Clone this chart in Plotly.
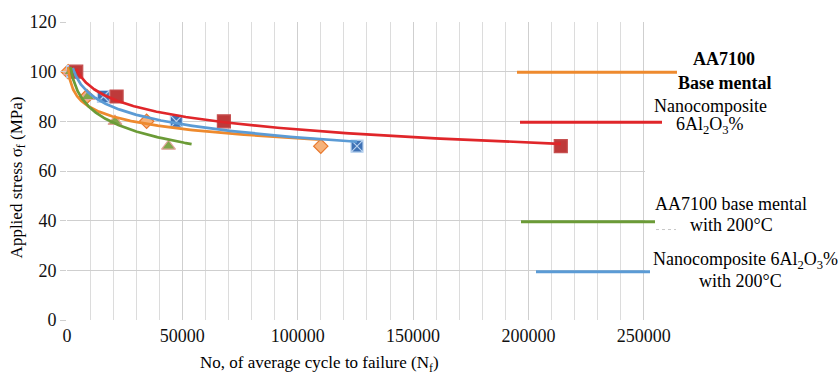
import numpy as np
import plotly.graph_objects as go

# ---- data ----
stress = [100, 90, 80, 70]
cycles_base = [500, 8600, 34500, 110000]          # AA7100 base mental
cycles_nano = [4000, 21500, 68000, 214000]        # Nanocomposite 6Al2O3%
cycles_base200 = [1500, 9000, 20800, 44000]       # AA7100 base mental with 200°C
cycles_nano200 = [2500, 15800, 47400, 125700]     # Nanocomposite 6Al2O3% with 200°C
trend_forward = [0, 0, 10000, 0]                  # Excel trendline forecast
x_ticks = [0, 50000, 100000, 150000, 200000, 250000]
y_ticks = [0, 20, 40, 60, 80, 100, 120]

series = [
    dict(x=cycles_base, line="#EE8A2E", fill="#F6B27A", edge="#E8762A", symbol="diamond", size=11),
    dict(x=cycles_nano200, line="#5B9BD5", fill="#3F72B5", edge="#B9D3F0", symbol="square-x", size=12),
    dict(x=cycles_base200, line="#6B9B37", fill="#7FA64A", edge="#E2A49C", symbol="triangle-up", size=12),
    dict(x=cycles_nano, line="#E0262A", fill="#BE3A3A", edge="#C65050", symbol="square", size=13),
]

W, H = 838, 377
L, R, T, B = 67, 193, 17, 57
PW, PH = W - L - R, H - T - B

def px(x):
    return (x - L) / PW

def py(y):
    return (H - B - y) / PH

fig = go.Figure()

# markers
for s in series:
    fig.add_trace(go.Scatter(
        x=s["x"], y=stress, mode="markers", showlegend=False, cliponaxis=False,
        marker=dict(symbol=s["symbol"], size=s["size"], color=s["fill"],
                    line=dict(color=s["edge"], width=1.2))))

# logarithmic trendlines (fit from the data)
for s, fwd in zip(series, trend_forward):
    xs = np.array(s["x"], dtype=float)
    a, b = np.polyfit(np.log(xs), np.array(stress, dtype=float), 1)
    xt = np.geomspace(xs.min(), xs.max() + fwd, 300)
    fig.add_trace(go.Scatter(x=xt, y=a * np.log(xt) + b, mode="lines", showlegend=False,
                             line=dict(color=s["line"], width=2.7)))

serif = "Liberation Serif, Times New Roman, serif"

# custom legend (Excel-style long swatches)
legend_lines = [
    (517, 677, 68, "#EE8A2E"),
    (520, 662, 119, "#E0262A"),
    (521, 655, 220, "#6B9B37"),
    (536, 650, 271, "#5B9BD5"),
]
shapes = []
for x0, x1, y, c in legend_lines:
    shapes.append(dict(type="line", xref="paper", yref="paper", x0=px(x0), x1=px(x1),
                       y0=py(y), y1=py(y), line=dict(color=c, width=3)))
shapes.append(dict(type="line", xref="paper", yref="paper", x0=px(656), x1=px(676),
                   y0=py(228), y1=py(228), line=dict(color="#C8C8C8", width=1, dash="dot")))

legend_texts = [
    ("<b>AA7100</b>", 724, 55),
    ("<b>Base mental</b>", 725, 79),
    ("Nanocomposite", 710, 102),
    ("6Al<sub>2</sub>O<sub>3</sub>%", 710, 122),
    ("AA7100 base mental", 731, 202),
    ("with 200°C", 731, 223),
    ("Nanocomposite 6Al<sub>2</sub>O<sub>3</sub>%", 745, 260),
    ("with 200°C", 740, 280),
]
annotations = []
for t, x, y in legend_texts:
    annotations.append(dict(text=t, xref="paper", yref="paper", x=px(x), y=py(y),
                            xanchor="center", yanchor="middle", showarrow=False,
                            font=dict(family=serif, size=18, color="#000")))

# axis titles
annotations.append(dict(text="No, of average cycle to failure (N<sub>f</sub>)", xref="paper", yref="paper",
                        x=px(319), y=py(365), xanchor="center", yanchor="middle", showarrow=False,
                        font=dict(family=serif, size=17, color="#000")))
annotations.append(dict(text="Applied stress σ<sub>f</sub> (MPa)", xref="paper", yref="paper",
                        x=px(18), y=py(175), xanchor="center", yanchor="middle", showarrow=False,
                        textangle=-90, font=dict(family=serif, size=17, color="#000")))

fig.update_layout(
    width=W, height=H, margin=dict(l=L, r=R, t=T, b=B),
    paper_bgcolor="white", plot_bgcolor="white",
    font=dict(family=serif, size=18, color="#111"),
    shapes=shapes, annotations=annotations, showlegend=False,
)
tickfont = dict(family=serif, size=18, color="#111")
fig.update_xaxes(range=[0, 250500], tickvals=x_ticks, tickformat="d", tickfont=tickfont,
                 showgrid=True, gridcolor="#CFCFCF", gridwidth=1,
                 minor=dict(dtick=10000, tick0=0, showgrid=True, gridcolor="#DCDCDC", gridwidth=1),
                 zeroline=False, showline=False, ticks="", ticklabelstandoff=3)
fig.update_yaxes(range=[0, 120], tickvals=y_ticks, tickfont=tickfont,
                 showgrid=True, gridcolor="#CFCFCF", gridwidth=1,
                 zeroline=False, showline=False, ticks="outside", ticklen=6, tickcolor="#CFCFCF")

fig.write_html("out.html", config={"displayModeBar": False},
               post_script="document.body.style.margin='0';document.body.style.overflow='hidden';")
